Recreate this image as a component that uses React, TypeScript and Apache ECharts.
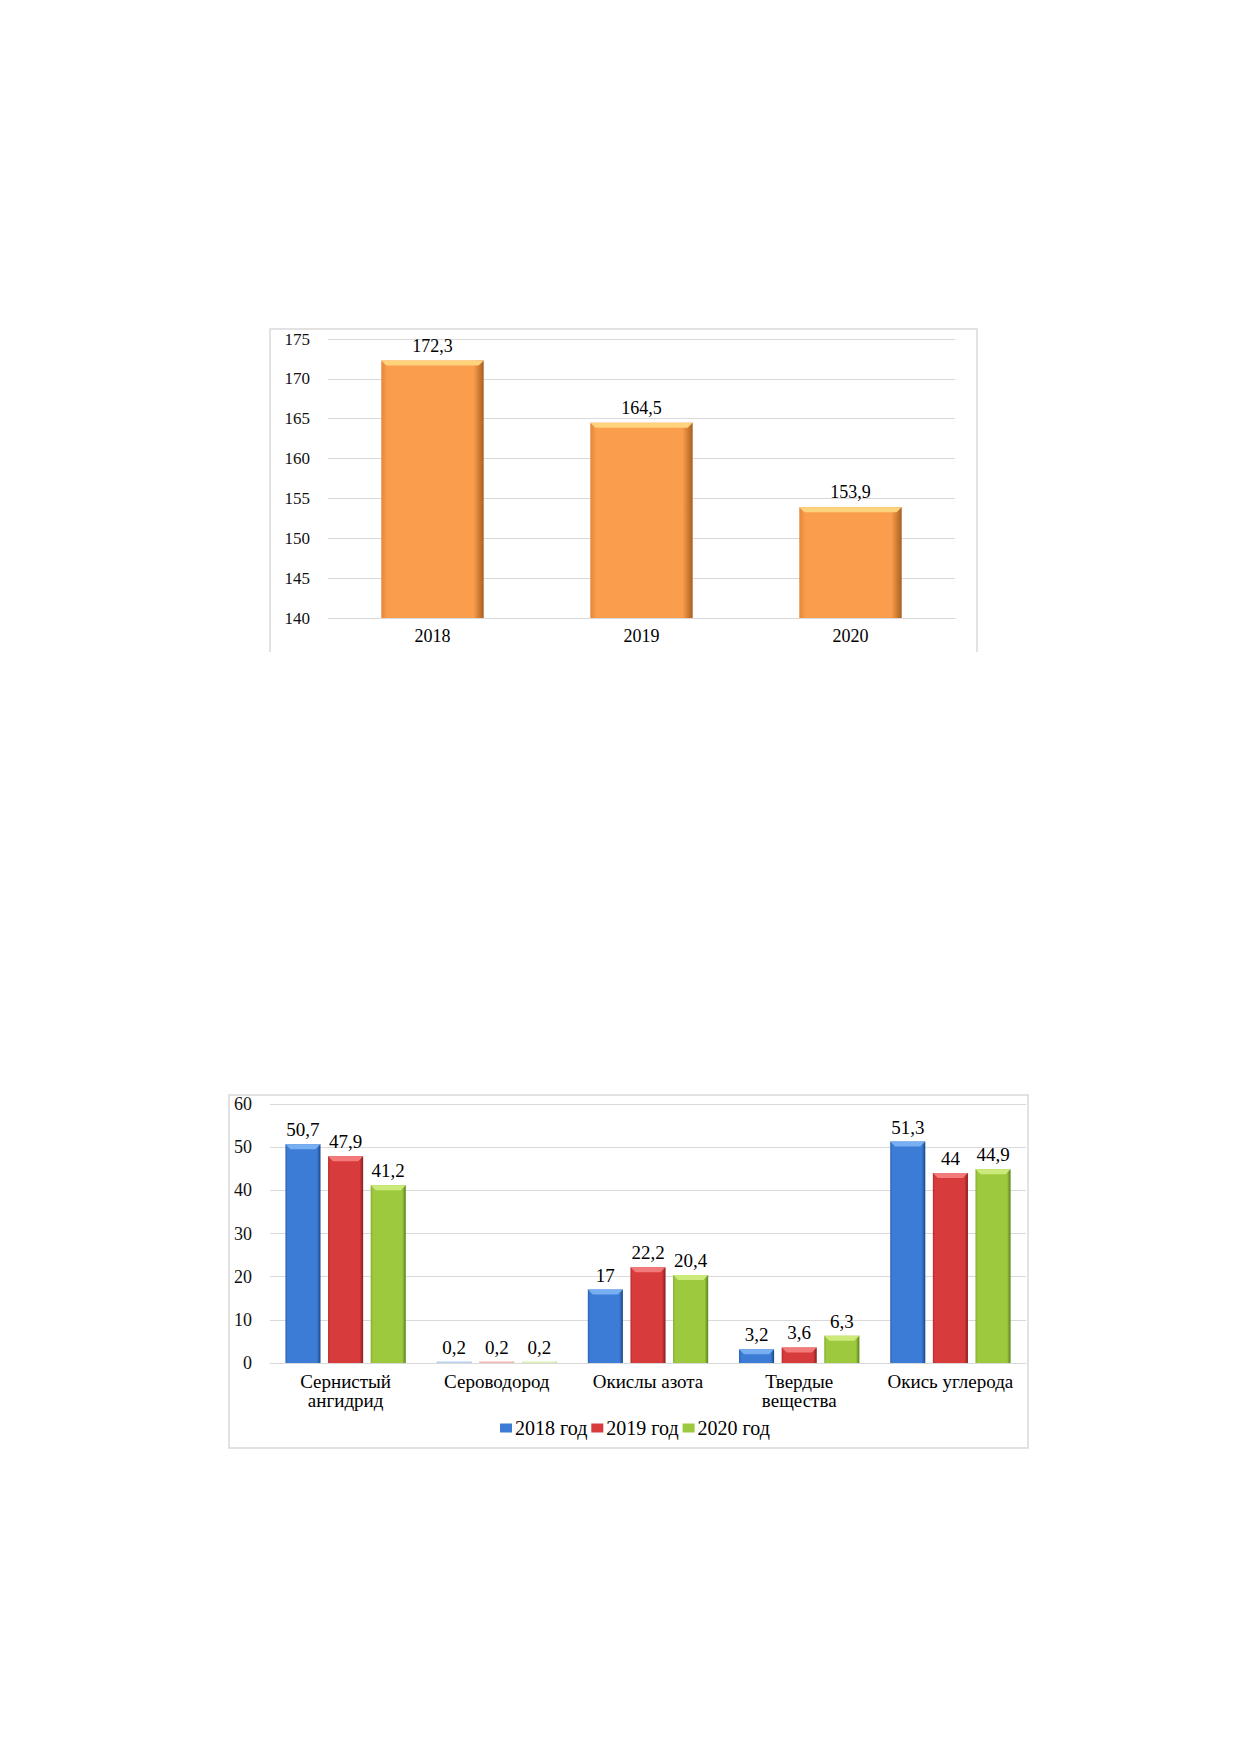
import React, { useEffect, useRef } from "react";
import * as echarts from "echarts";

// ---- Data ----
const years = ["2018", "2019", "2020"];
const totals = [172.3, 164.5, 153.9];
const yTicks1 = { min: 140, max: 175, interval: 5 };

const pollutants = [
  "Сернистый\nангидрид",
  "Сероводород",
  "Окислы азота",
  "Твердые\nвещества",
  "Окись углерода",
];
const seriesNames = ["2018 год", "2019 год", "2020 год"];
const v2018 = [50.7, 0.2, 17, 3.2, 51.3];
const v2019 = [47.9, 0.2, 22.2, 3.6, 44];
const v2020 = [41.2, 0.2, 20.4, 6.3, 44.9];
const yTicks2 = { min: 0, max: 60, interval: 10 };

const FONT = '"Liberation Serif", "Times New Roman", serif';

const palettes = {
  orange: { main: "#FA9D4C", top: "#FFD27C", edgeL: "#E8853A", edgeR: "#A9601F" },
  blue: { main: "#3C7CD6", top: "#78AEF2", edgeL: "#2A5FAE", edgeR: "#1C4584" },
  red: { main: "#D83B3B", top: "#F27A7A", edgeL: "#B52A2A", edgeR: "#861C1C" },
  green: { main: "#9CC93E", top: "#CBEA7A", edgeL: "#7FAA2A", edgeR: "#5A7F1A" },
};

const fmt = (v: number) => String(v).replace(".", ",");

const makeRender =
  (pal: any, wf: number, off: number, yMin: number, fs: number, gap: number) =>
  (params: any, api: any) => {
    const cat = api.value(0);
    const v = api.value(1);
    const p = api.coord([cat, v]);
    const b0 = api.coord([cat, yMin]);
    const band = api.size([1, 0])[0];
    const bw = band * wf;
    const cx = p[0] + off * band;
    const x = cx - bw / 2;
    const y = p[1];
    const h = Math.max(b0[1] - p[1], 0);
    const bev = Math.min(5, h / 2);
    return {
      type: "group",
      children: [
        {
          type: "rect",
          shape: { x, y: h < 2 ? y - 1 : y, width: bw, height: h < 2 ? h + 1 : h },
          style: {
            fill: new echarts.graphic.LinearGradient(0, 0, 1, 0, [
              { offset: 0, color: pal.edgeL },
              { offset: 0.06, color: pal.main },
              { offset: 0.9, color: pal.main },
              { offset: 1, color: pal.edgeR },
            ]),
            opacity: h < 2 ? 0.25 : 1,
          },
        },
        {
          type: "polygon",
          shape: {
            points: [
              [x, y],
              [x + bw, y],
              [x + bw - bev, y + bev],
              [x + bev, y + bev],
            ],
          },
          style: { fill: pal.top },
        },
        {
          type: "text",
          style: {
            text: fmt(v),
            x: cx,
            y: y - gap,
            align: "center",
            verticalAlign: "bottom",
            font: `${fs}px ${FONT}`,
            fill: "#000",
          },
        },
      ],
    };
  };

export default function App() {
  const ref = useRef<HTMLDivElement>(null);

  useEffect(() => {
    if (!ref.current) return;
    const chart = echarts.init(ref.current, null, { renderer: "svg" });
    const gridLine = { lineStyle: { color: "#D9D9D9", width: 1 } };
    const series2Data = [v2018, v2019, v2020];
    const pals2 = [palettes.blue, palettes.red, palettes.green];
    const offs = [-0.282, 0, 0.282];

    chart.setOption({
      animation: false,
      backgroundColor: "#fff",
      graphic: [
        {
          type: "polyline",
          shape: { points: [[270, 652], [270, 329], [977, 329], [977, 652]] },
          style: { stroke: "#D9D9D9", fill: "none", lineWidth: 1.5 },
          silent: true,
        },
        {
          type: "rect",
          shape: { x: 229, y: 1095, width: 799, height: 353 },
          style: { stroke: "#D9D9D9", fill: "none", lineWidth: 1.5 },
          silent: true,
        },
      ],
      legend: {
        data: seriesNames,
        left: 495,
        top: 1413,
        icon: "rect",
        itemWidth: 12,
        itemHeight: 9,
        itemGap: 4,
        textStyle: { fontFamily: FONT, fontSize: 20, color: "#000", padding: [0, 0, 0, -2] },
      },
      grid: [
        { left: 328, right: 285, top: 339, bottom: 1754 - 618, containLabel: false },
        { left: 270, right: 214, top: 1104, bottom: 1754 - 1363, containLabel: false },
      ],
      xAxis: [
        {
          type: "category",
          gridIndex: 0,
          data: years,
          axisLine: { lineStyle: { color: "#D9D9D9" } },
          axisTick: { show: false },
          axisLabel: { fontFamily: FONT, fontSize: 18, color: "#000", margin: 9 },
        },
        {
          type: "category",
          gridIndex: 1,
          data: pollutants,
          axisLine: { lineStyle: { color: "#D9D9D9" } },
          axisTick: { show: false },
          axisLabel: {
            fontFamily: FONT,
            fontSize: 19,
            color: "#000",
            margin: 9,
            lineHeight: 19,
            interval: 0,
          },
        },
      ],
      yAxis: [
        {
          type: "value",
          gridIndex: 0,
          ...yTicks1,
          axisLine: { show: false },
          axisTick: { show: false },
          splitLine: gridLine,
          axisLabel: { fontFamily: FONT, fontSize: 17, color: "#111", margin: 18 },
        },
        {
          type: "value",
          gridIndex: 1,
          ...yTicks2,
          axisLine: { show: false },
          axisTick: { show: false },
          splitLine: gridLine,
          axisLabel: { fontFamily: FONT, fontSize: 18, color: "#111", margin: 18 },
        },
      ],
      series: [
        {
          type: "custom",
          name: "total",
          xAxisIndex: 0,
          yAxisIndex: 0,
          data: totals.map((v, i) => [i, v]),
          encode: { x: 0, y: 1 },
          itemStyle: { color: palettes.orange.main },
          renderItem: makeRender(palettes.orange, 0.49, 0, yTicks1.min, 18, 6),
        },
        ...series2Data.map((arr, s) => ({
          type: "custom",
          name: seriesNames[s],
          xAxisIndex: 1,
          yAxisIndex: 1,
          data: arr.map((v, i) => [i, v]),
          encode: { x: 0, y: 1 },
          itemStyle: { color: pals2[s].main },
          renderItem: makeRender(pals2[s], 0.232, offs[s], yTicks2.min, 19, 5),
        })),
      ],
    });
    return () => chart.dispose();
  }, []);

  return (
    <div
      ref={ref}
      style={{ position: "absolute", left: 0, top: 0, width: 1240, height: 1754, background: "#fff" }}
    />
  );
}
